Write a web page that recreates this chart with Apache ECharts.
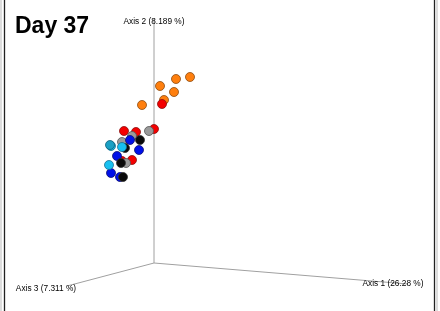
<!DOCTYPE html>
<html>
<head>
<meta charset="utf-8">
<script src="https://cdn.jsdelivr.net/npm/echarts@6/dist/echarts.min.js"></script>
<style>
  html, body { margin: 0; padding: 0; background: #fff; }
  #chart { width: 440px; height: 311px; }
</style>
</head>
<body>
<div id="chart"></div>
<script>
// projected sample positions (plot units, origin = where the three axes meet)
const orange = [[36, 186], [22, 184], [6, 177], [20, 171], [10, 163], [-12, 158]];
const red = [[8, 159], [-30, 132], [-18, 131], [0, 134], [-32, 102], [-22, 103]];
const gray = [[-5, 132], [-22, 127], [-32, 121], [-28, 100]];
const blue = [[-24, 123], [-15, 113], [-37, 107], [-43, 90], [-34, 86]];
const black = [[-14, 123], [-29, 115], [-33, 100], [-31, 86]];
const cyan = [[-43, 117], [-32, 116], [-45, 98]];
const teal = [[-44, 118]];

// axis ends and label anchors
const axis1 = [[0, 0], [254, -21]];
const axis2 = [[0, 0], [0, 245]];
const axis3 = [[0, 0], [-87, -23]];
const axisLabels = [
  { name: 'Axis 1 (26.28 %)', pos: [239, -21] },
  { name: 'Axis 2 (8.189 %)', pos: [0, 241] },
  { name: 'Axis 3 (7.311 %)', pos: [-108, -26] }
];

const chart = echarts.init(document.getElementById('chart'));

function pts(data, color, border) {
  return {
    type: 'scatter',
    data: data,
    symbolSize: 9,
    itemStyle: { color: color, borderColor: border, borderWidth: 0.8, opacity: 1 },
    z: 5,
    silent: true
  };
}

function axisLine(data) {
  return {
    type: 'line',
    data: data,
    symbol: 'none',
    lineStyle: { color: '#a0a0a0', width: 1 },
    z: 2,
    silent: true
  };
}

chart.setOption({
  animation: false,
  grid: { left: 0, right: 0, top: 0, bottom: 0 },
  xAxis: { type: 'value', min: -154, max: 286, show: false },
  yAxis: { type: 'value', min: -48, max: 263, show: false },
  graphic: [
    { type: 'line', shape: { x1: 1, y1: 0, x2: 1, y2: 311 }, style: { stroke: '#bbb', lineWidth: 1 } },
    { type: 'line', shape: { x1: 4.5, y1: 0, x2: 4.5, y2: 311 }, style: { stroke: '#222', lineWidth: 1.3 } },
    { type: 'line', shape: { x1: 434.5, y1: 0, x2: 434.5, y2: 311 }, style: { stroke: '#222', lineWidth: 1.3 } },
    { type: 'line', shape: { x1: 437, y1: 0, x2: 437, y2: 311 }, style: { stroke: '#bbb', lineWidth: 1 } },
    {
      type: 'text', left: 15, top: 15,
      style: { text: 'Day 37', font: 'bold 23px "Liberation Sans", Arial, sans-serif', fill: '#000' }
    }
  ],
  series: [
    axisLine(axis1),
    axisLine(axis2),
    axisLine(axis3),
    {
      type: 'scatter',
      data: axisLabels.map(d => ({ value: d.pos, name: d.name })),
      symbolSize: 0,
      z: 3,
      silent: true,
      label: {
        show: true,
        position: 'inside',
        formatter: p => p.name,
        fontFamily: '"Liberation Sans", Arial, sans-serif',
        fontSize: 8.3,
        color: '#000',
        textBorderWidth: 0,
        opacity: 1
      }
    },
    pts(orange, '#ff7f0e', '#8a4a10'),
    pts(red, '#f40000', '#8a1010'),
    pts(gray, '#9a9a9a', '#555'),
    pts(blue, '#0010e8', '#101070'),
    pts(black, '#0a0a0a', '#333'),
    pts(cyan, '#18c0f0', '#1a6f90'),
    pts(teal, '#1aa0c4', '#125f78')
  ]
});
</script>
</body>
</html>
